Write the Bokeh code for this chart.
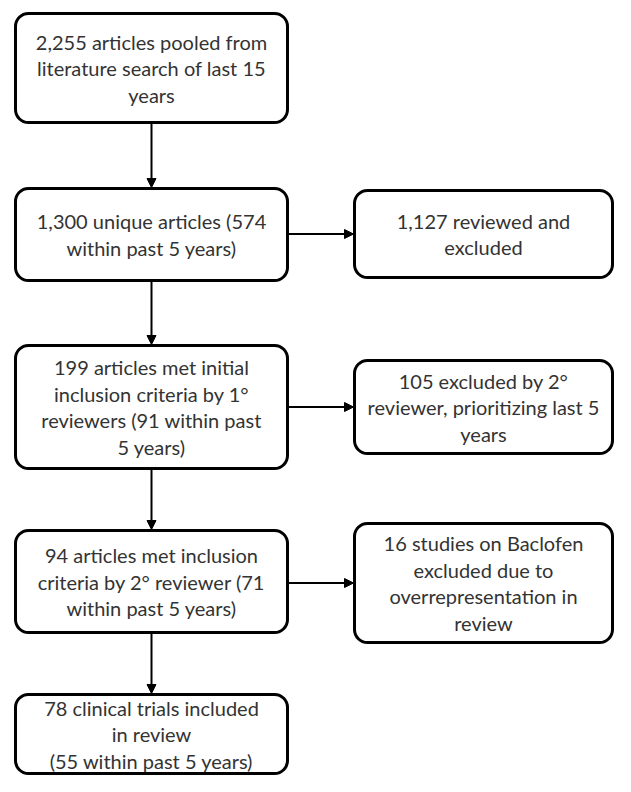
from bokeh.plotting import figure
from bokeh.models import Range1d, Arrow, NormalHead, ColumnDataSource
from bokeh.core.properties import value
from bokeh.embed import file_html
from bokeh.resources import INLINE

# Flowchart content
main_labels = [
    "2,255 articles pooled from\nliterature search of last 15\nyears",
    "1,300 unique articles (574\nwithin past 5 years)",
    "199 articles met initial\ninclusion criteria by 1°\nreviewers (91 within past\n5 years)",
    "94 articles met inclusion\ncriteria by 2° reviewer (71\nwithin past 5 years)",
    "78 clinical trials included\nin review\n(55 within past 5 years)",
]
side_labels = [
    "1,127 reviewed and\nexcluded",
    "105 excluded by 2°\nreviewer, prioritizing last 5\nyears",
    "16 studies on Baclofen\nexcluded due to\noverrepresentation in\nreview",
]
side_from = [1, 2, 3]  # index of main box each side box branches from

# Layout (pixel coordinates)
main_left, main_right = 15, 287
main_tops = [13, 188, 345, 530, 694]
main_bottoms = [122, 280, 468, 632, 773]
side_left, side_right = 354, 612
side_tops = [190, 360, 523]
side_bottoms = [277, 453, 642]

p = figure(width=615, height=776, x_range=Range1d(0, 615), y_range=Range1d(776, 0),
           output_backend="svg", toolbar_location=None, min_border=0,
           x_axis_location=None, y_axis_location=None)
p.grid.visible = False
p.outline_line_color = None

# arrows
head = lambda: NormalHead(size=9, fill_color="black", line_color="black", line_width=1)
cx = (main_left + main_right) / 2
for i in range(len(main_labels) - 1):
    p.add_layout(Arrow(x_start=cx, y_start=main_bottoms[i], x_end=cx, y_end=main_tops[i + 1] - 1,
                       end=head(), line_width=2, line_color="black"))
for j, mi in enumerate(side_from):
    ym = (side_tops[j] + side_bottoms[j]) / 2
    p.add_layout(Arrow(x_start=main_right, y_start=ym, x_end=side_left - 1, y_end=ym,
                       end=head(), line_width=2, line_color="black"))

# boxes
lefts = [main_left] * len(main_labels) + [side_left] * len(side_labels)
rights = [main_right] * len(main_labels) + [side_right] * len(side_labels)
tops = main_tops + side_tops
bottoms = main_bottoms + side_bottoms
p.quad(left=lefts, right=rights, top=tops, bottom=bottoms, border_radius=13,
       fill_color="white", line_color="black", line_width=3)

# text lines
labels = main_labels + side_labels
tx, ty, tt = [], [], []
lh = 26.5
for k, lab in enumerate(labels):
    lines = lab.split("\n")
    xc = (lefts[k] + rights[k]) / 2
    yc = (tops[k] + bottoms[k]) / 2
    n = len(lines)
    for i, ln in enumerate(lines):
        tx.append(xc)
        ty.append(yc + (i - (n - 1) / 2) * lh)
        tt.append(ln)
src = ColumnDataSource(dict(x=tx, y=ty, text=tt))
p.text(x="x", y="y", text="text", source=src, text_align="center", text_baseline="middle",
       text_font=value("Lato"), text_font_size="20px", text_color="#333333")

open("out.html", "w").write(file_html(p, INLINE))
